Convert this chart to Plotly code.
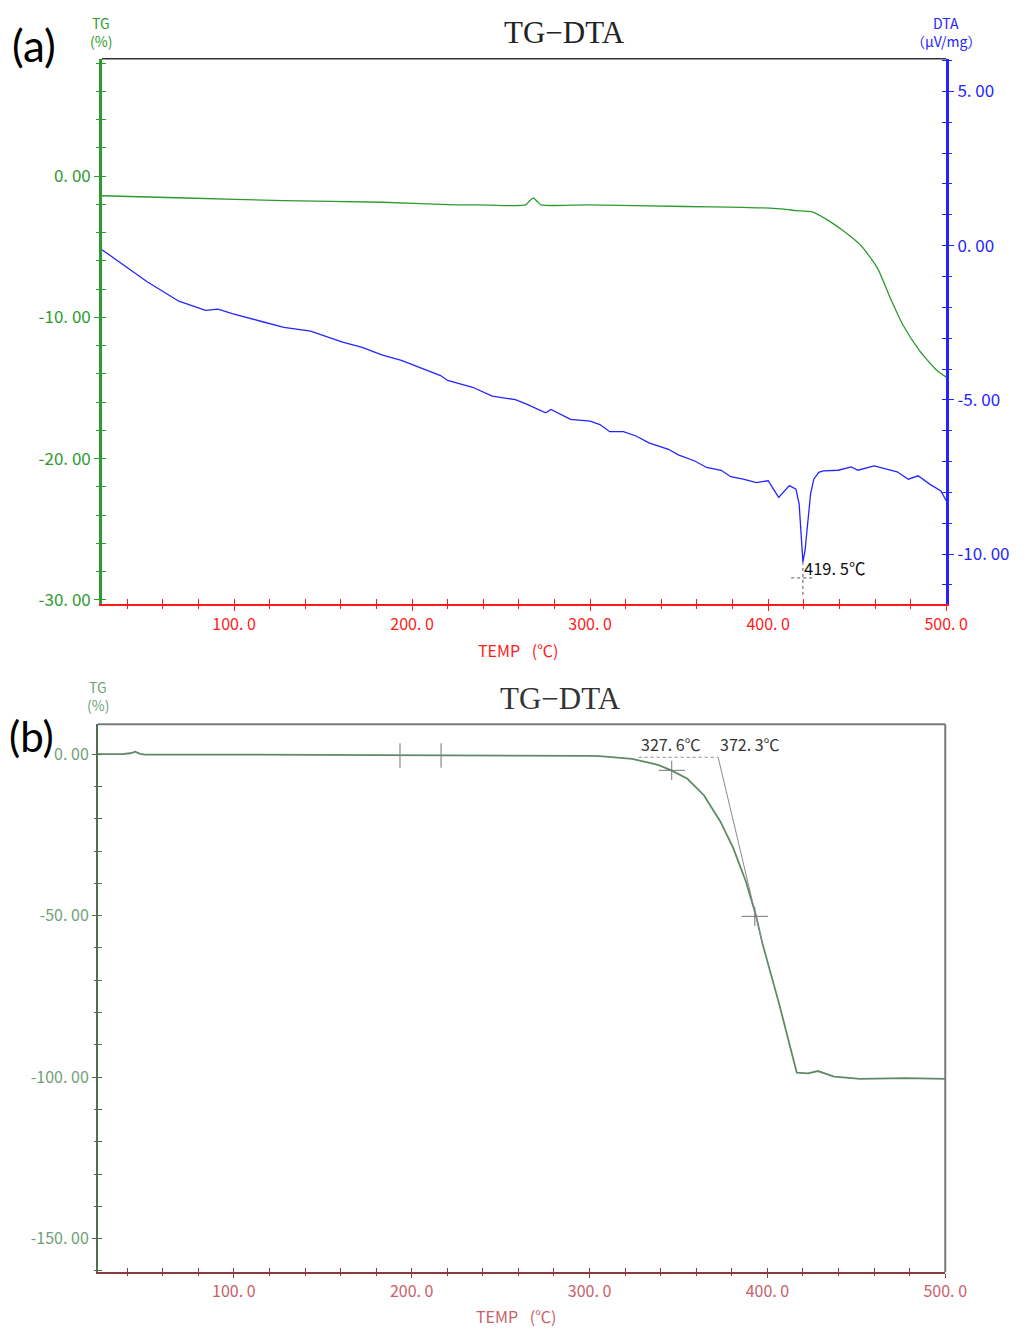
import plotly.graph_objects as go

# ---------------- data : panel (a) ----------------
tg_a_temp = [25.8, 73, 128, 183, 220, 238, 263.7, 266, 268.1, 270.3, 272.5, 298, 353, 386,
             397.3, 410, 415.4, 424.7, 433.9, 442.9, 452.2, 461.5, 468.7, 475.8, 485.2, 494.5, 500]
tg_a_val = [-1.39, -1.55, -1.74, -1.85, -2.02, -2.04, -2.04, -1.75, -1.55, -1.80, -2.04, -2.04, -2.15, -2.22,
            -2.25, -2.35, -2.44, -2.53, -3.15, -3.94, -4.93, -6.55, -8.66, -10.56, -12.39, -13.73, -14.23]

dta_temp = [25.8, 51, 69, 84, 91, 99, 115, 128, 143, 157, 161, 172, 183, 194, 216, 220, 234, 245,
            258, 264, 275, 278, 289, 300, 305.5, 311, 318.7, 325.8, 333, 344, 349.5, 358.8, 365.4,
            373.6, 379, 386, 393.4, 400, 405.9, 411.9, 415.6, 417.4, 418.9, 419.5, 420.7, 422.0,
            423.8, 425.6, 428.4, 431, 439.4, 446.7, 450.4, 459.5, 466.9, 472.4, 478.7, 484.2,
            490.7, 497, 500]
dta_val = [-0.13, -1.16, -1.8, -2.1, -2.06, -2.2, -2.45, -2.65, -2.77, -3.06, -3.13, -3.3, -3.54,
           -3.72, -4.21, -4.37, -4.59, -4.88, -4.99, -5.13, -5.42, -5.31, -5.63, -5.69, -5.8, -6.03,
           -6.03, -6.17, -6.39, -6.6, -6.78, -6.98, -7.19, -7.28, -7.49, -7.57, -7.68, -7.62, -8.16,
           -7.78, -7.89, -8.38, -9.67, -10.25, -9.88, -9.13, -8.05, -7.57, -7.35, -7.3, -7.28,
           -7.17, -7.28, -7.14, -7.25, -7.33, -7.57, -7.46, -7.73, -7.95, -8.27]

peak_temp = 419.5
peak_label = "419. 5℃"

# ---------------- data : panel (b) ----------------
tg_b_temp = [23.6, 37, 41.8, 44.5, 47.3, 50, 100, 177.5, 250, 298, 305.5, 324, 338.5, 346, 355,
             364.3, 373.6, 380.8, 387.9, 393.4, 397.3, 406.6, 416.5, 422.9, 428.4, 437.5, 452.2,
             477.8, 500]
tg_b_val = [0.05, 0.05, 0.3, 0.8, 0.1, -0.1, -0.1, -0.2, -0.3, -0.5, -0.6, -1.45, -3.3, -5.0, -7.6,
            -12.7, -20.9, -29.1, -39.4, -49.6, -58.8, -77.3, -98.6, -98.8, -98.1, -99.8, -100.5,
            -100.3, -100.5]

onset_temps = [327.6, 372.3]
onset_labels = ["327. 6℃", "372. 3℃"]
onset_level = -0.95
tangent_temps = [372.3, 397.3]
tangent_vals = [-0.95, -58.8]
range_mark_temps = [193.4, 216.5]
range_mark_level = -0.4
cross_temps = [346.2, 392.9]
cross_vals = [-5.0, -50.2]

# ---------------- tick labels ----------------
x_tickvals = [100, 200, 300, 400, 500]
x_ticktext = ["100. 0", "200. 0", "300. 0", "400. 0", "500. 0"]
tg_a_tickvals = [0, -10, -20, -30]
tg_a_ticktext = ["0. 00", "-10. 00", "-20. 00", "-30. 00"]
dta_tickvals = [5, 0, -5, -10]
dta_ticktext = ["5. 00", "0. 00", "-5. 00", "-10. 00"]
tg_b_tickvals = [0, -50, -100, -150]
tg_b_ticktext = ["0. 00", "-50. 00", "-100. 00", "-150. 00"]

# ---------------- layout geometry ----------------
PAGE_W, PAGE_H = 1032, 1335
OFF = 8  # default page body margin
W, H = PAGE_W - 2 * OFF, PAGE_H - 2 * OFF


def fx(p):
    return (p - OFF) / W


def fy(p):
    return 1 - (p - OFF) / H


A_X = [fx(104), fx(967)]
A_Y = [fy(607), fy(59)]
B_X = [fx(100), fx(966)]
B_Y = [fy(1279), fy(728)]
XR_A = [25.8, 500]
XR_B = [23.6, 500]
TG_A_R = [-30.28, 8.31]
DTA_R = [-11.61, 6.06]
TG_B_R = [-160.4, 9.3]

FONT = "Noto Sans CJK JP"
RED = "#ff1a1a"
GREEN = "#2e9a2e"
BLUE = "#2424ff"
B_RED = "#c8606a"
B_XLINE = "#8a3a3a"
B_GREEN = "#6f9f78"
B_YLINE = "#4f6f55"

fig = go.Figure()

fig.add_trace(go.Scatter(x=tg_a_temp, y=tg_a_val, mode="lines", xaxis="x", yaxis="y",
                         line=dict(color=GREEN, width=1.3, shape="spline", smoothing=0.6),
                         showlegend=False, hoverinfo="skip"))
fig.add_trace(go.Scatter(x=dta_temp, y=dta_val, mode="lines", xaxis="x", yaxis="y2",
                         line=dict(color=BLUE, width=1.3), showlegend=False, hoverinfo="skip"))
fig.add_trace(go.Scatter(x=tg_b_temp, y=tg_b_val, mode="lines", xaxis="x2", yaxis="y5",
                         line=dict(color="#5f8a66", width=1.8), showlegend=False, hoverinfo="skip"))
fig.add_trace(go.Scatter(x=tangent_temps, y=tangent_vals, mode="lines", xaxis="x2", yaxis="y5",
                         line=dict(color="#8a8a8a", width=1), showlegend=False, hoverinfo="skip"))
fig.add_trace(go.Scatter(x=onset_temps, y=[onset_level, onset_level], mode="lines", xaxis="x2",
                         yaxis="y5", line=dict(color="#8a8a8a", width=1, dash="dot"),
                         showlegend=False, hoverinfo="skip"))
# empty traces so twin tick axes render
fig.add_trace(go.Scatter(x=[], y=[], xaxis="x3", yaxis="y3", showlegend=False))
fig.add_trace(go.Scatter(x=[], y=[], xaxis="x3", yaxis="y4", showlegend=False))
fig.add_trace(go.Scatter(x=[], y=[], xaxis="x4", yaxis="y6", showlegend=False))


def tickfont(c, s=16):
    return dict(family=FONT, size=s, color=c)


common = dict(showgrid=False, zeroline=False, fixedrange=True)

layout = dict(
    width=W, height=H, margin=dict(l=0, r=0, t=0, b=0),
    paper_bgcolor="white", plot_bgcolor="white", showlegend=False,
    # ---- panel (a)
    xaxis=dict(domain=A_X, anchor="y", range=XR_A, showline=True, linecolor=RED, linewidth=1.5,
               ticks="outside", ticklen=5, tickwidth=1, tickcolor=RED, tickmode="array",
               tickvals=x_tickvals, ticktext=x_ticktext, tickfont=tickfont(RED, 16),
               minor=dict(tickmode="linear", tick0=0, dtick=20, ticks="outside", ticklen=3,
                          tickcolor=RED, tickwidth=1), **common),
    xaxis3=dict(overlaying="x", anchor="y", side="bottom", range=XR_A, showline=False,
                ticks="inside", ticklen=5, tickcolor=RED, tickmode="linear", tick0=0, dtick=20,
                showticklabels=False, **common),
    yaxis=dict(domain=A_Y, anchor="x", range=TG_A_R, showline=True, linecolor=GREEN, linewidth=2.5,
               ticks="outside", ticklen=5, tickwidth=1.2, tickcolor=GREEN, tickmode="array",
               tickvals=tg_a_tickvals, ticktext=tg_a_ticktext, tickfont=tickfont(GREEN, 17),
               minor=dict(tickmode="linear", tick0=0, dtick=2, ticks="outside", ticklen=3,
                          tickcolor=GREEN, tickwidth=1.2), **common),
    yaxis3=dict(overlaying="y", anchor="x", side="left", range=TG_A_R, showline=False,
                ticks="inside", ticklen=4, tickwidth=1.2, tickcolor=GREEN, tickmode="linear",
                tick0=0, dtick=2, showticklabels=False, **common),
    yaxis2=dict(overlaying="y", anchor="x", side="right", range=DTA_R, showline=True, linecolor=BLUE,
                linewidth=2.5, ticks="outside", ticklen=5, tickwidth=1.2, tickcolor=BLUE,
                tickmode="array", tickvals=dta_tickvals, ticktext=dta_ticktext,
                tickfont=tickfont(BLUE, 17),
                minor=dict(tickmode="linear", tick0=0, dtick=1, ticks="outside", ticklen=3,
                           tickcolor=BLUE, tickwidth=1.2), **common),
    yaxis4=dict(overlaying="y", anchor="x", side="right", range=DTA_R, showline=False,
                ticks="inside", ticklen=4, tickwidth=1.2, tickcolor=BLUE, tickmode="linear",
                tick0=0, dtick=1, showticklabels=False, **common),
    # ---- panel (b)
    xaxis2=dict(domain=B_X, anchor="y5", range=XR_B, showline=True, linecolor=B_XLINE, linewidth=1.5,
                ticks="outside", ticklen=4, tickwidth=1, tickcolor=B_XLINE, tickmode="array",
                tickvals=x_tickvals, ticktext=x_ticktext, tickfont=tickfont(B_RED, 16),
                minor=dict(tickmode="linear", tick0=0, dtick=20, ticks="outside", ticklen=2,
                           tickcolor=B_XLINE, tickwidth=1), **common),
    xaxis4=dict(overlaying="x2", anchor="y5", side="bottom", range=XR_B, showline=False,
                ticks="inside", ticklen=4, tickcolor=B_XLINE, tickmode="linear", tick0=0, dtick=20,
                showticklabels=False, **common),
    yaxis5=dict(domain=B_Y, anchor="x2", range=TG_B_R, showline=True, linecolor=B_YLINE,
                linewidth=2, ticks="outside", ticklen=4, tickwidth=1, tickcolor=B_YLINE,
                tickmode="array", tickvals=tg_b_tickvals, ticktext=tg_b_ticktext,
                tickfont=tickfont(B_GREEN, 16),
                minor=dict(tickmode="linear", tick0=0, dtick=10, ticks="outside", ticklen=2,
                           tickcolor=B_YLINE, tickwidth=1), **common),
    yaxis6=dict(overlaying="y5", anchor="x2", side="left", range=TG_B_R, showline=False,
                ticks="inside", ticklen=4, tickwidth=1, tickcolor=B_YLINE, tickmode="linear",
                tick0=0, dtick=10, showticklabels=False, **common),
)
fig.update_layout(**layout)

shapes = []
# frame lines
shapes.append(dict(type="line", xref="x domain", yref="y domain", x0=0, x1=1, y0=1, y1=1,
                   line=dict(color="#333333", width=1.5)))
shapes.append(dict(type="line", xref="x2 domain", yref="y5 domain", x0=0, x1=1, y0=1, y1=1,
                   line=dict(color="#7a7a7a", width=2)))
shapes.append(dict(type="line", xref="x2 domain", yref="y5 domain", x0=1, x1=1, y0=0, y1=1,
                   line=dict(color="#7a7a7a", width=2)))
# DTA peak crosshair (dotted)
pk = min(dta_val)
shapes.append(dict(type="line", xref="x", yref="y2", x0=peak_temp - 6.6, x1=peak_temp + 6.6,
                   y0=pk - 0.52, y1=pk - 0.52, line=dict(color="#555555", width=1, dash="dot")))
shapes.append(dict(type="line", xref="x", yref="y2", x0=peak_temp, x1=peak_temp,
                   y0=pk, y1=pk - 1.1, line=dict(color="#555555", width=1, dash="dot")))
# range markers (b)
for t in range_mark_temps:
    shapes.append(dict(type="line", xref="x2", yref="y5", x0=t, x1=t,
                       y0=range_mark_level - 3.8, y1=range_mark_level + 3.8,
                       line=dict(color="#8a8a8a", width=1.2)))
# crosses (b)
for t, v in zip(cross_temps, cross_vals):
    shapes.append(dict(type="line", xref="x2", yref="y5", x0=t - 7.4, x1=t + 7.4, y0=v, y1=v,
                       line=dict(color="#777777", width=1)))
    shapes.append(dict(type="line", xref="x2", yref="y5", x0=t, x1=t, y0=v - 3, y1=v + 3,
                       line=dict(color="#777777", width=1)))
fig.update_layout(shapes=shapes)


def ptxt(text, px, py, size, color, family=FONT, xanchor="center"):
    return dict(text=text, xref="paper", yref="paper", x=fx(px), y=fy(py), showarrow=False,
                xanchor=xanchor, yanchor="middle", font=dict(family=family, size=size, color=color))


ann = [
    ptxt("TG−DTA", 577, 33, 31, "#222222", family="Liberation Serif"),
    ptxt("(a)", 35, 45, 44, "#000000", family="Lato"),
    ptxt("TG", 103, 23, 14, GREEN),
    ptxt("(%)", 103, 41, 14, GREEN),
    ptxt("DTA", 967, 23, 14, BLUE),
    ptxt("（μV/mg）", 967, 41, 14, BLUE),
    ptxt("TEMP\u2002 (℃)", 530, 653, 16, RED),
    ptxt("TG−DTA", 573, 702, 31, "#333333", family="Liberation Serif"),
    ptxt("(b)", 32, 740, 42, "#000000", family="Lato"),
    ptxt("TG", 100, 691, 14, B_GREEN),
    ptxt("(%)", 100, 709, 14, B_GREEN),
    ptxt("TEMP\u2002 (℃)", 528, 1323, 16, B_RED),
]
ann.append(dict(text=peak_label, xref="x", yref="y2", x=peak_temp, y=pk - 0.2, xanchor="left",
                yanchor="middle", showarrow=False, xshift=-1,
                font=dict(family=FONT, size=16.5, color="#111111")))
for t, lab in zip(onset_temps, onset_labels):
    ann.append(dict(text=lab, xref="x2", yref="y5", x=t, y=onset_level, xanchor="left",
                    yanchor="bottom", showarrow=False, yshift=-1,
                    font=dict(family=FONT, size=16, color="#333333")))
fig.update_layout(annotations=ann)

fig.write_html("out.html", config={"displayModeBar": False})
